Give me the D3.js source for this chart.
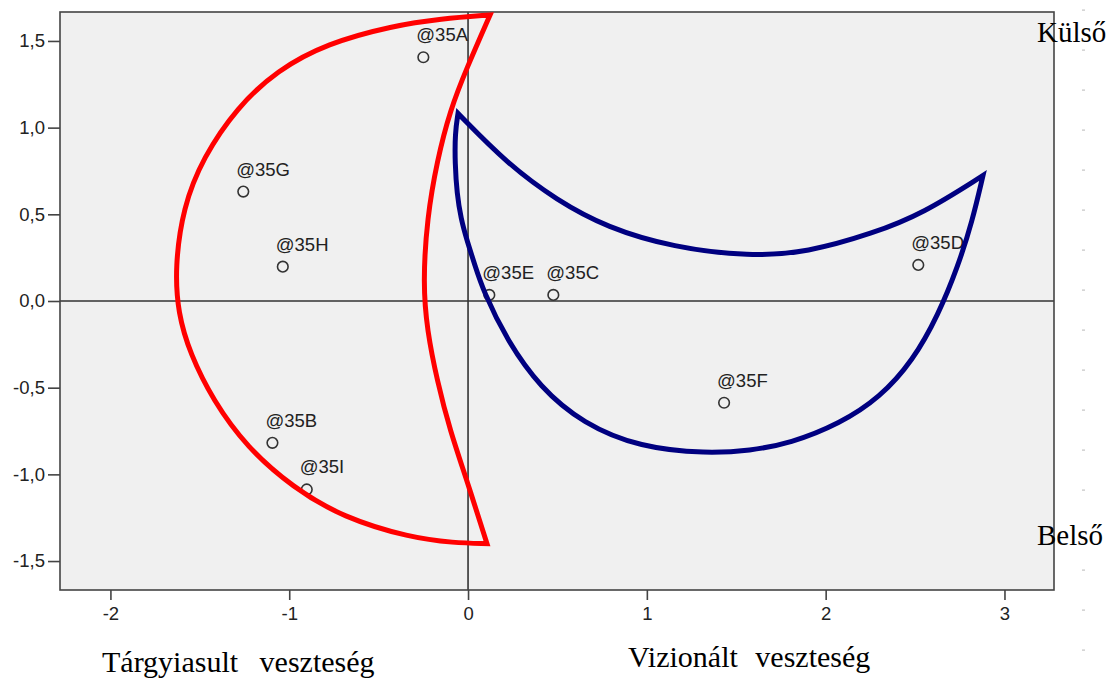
<!DOCTYPE html>
<html>
<head>
<meta charset="utf-8">
<script src="https://cdn.jsdelivr.net/npm/d3@7"></script>
<style>
  html, body { margin: 0; padding: 0; background: #fff; }
  svg { display: block; }
</style>
</head>
<body>
<svg id="chart" width="1113" height="679"></svg>
<script>
// ---- data ----
const pointLabels = ["@35A", "@35G", "@35H", "@35E", "@35C", "@35F", "@35D", "@35B", "@35I"];
const pointX = [-0.250, -1.257, -1.036, 0.119, 0.477, 1.432, 2.518, -1.094, -0.902];
const pointY = [1.406, 0.631, 0.198, 0.035, 0.035, -0.587, 0.208, -0.818, -1.087];

const xTicks = [-2, -1, 0, 1, 2, 3];
const yTicks = [1.5, 1.0, 0.5, 0.0, -0.5, -1.0, -1.5];

// red crescent ("Tárgyiasult veszteség") outline, data units
const redOuterX = [0.123, -0.150, -0.419, -0.789, -1.068, -1.292, -1.482, -1.594, -1.639, -1.622, -1.555, -1.426, -1.236, -0.979, -0.699, -0.324, -0.080, 0.106];
const redOuterY = [1.650, 1.628, 1.588, 1.486, 1.330, 1.117, 0.828, 0.540, 0.193, -0.072, -0.303, -0.574, -0.845, -1.076, -1.249, -1.365, -1.395, -1.400];
const redInnerX = [0.123, -0.006, -0.101, -0.173, -0.229, -0.252, -0.229, -0.173, -0.101, -0.006, 0.106];
const redInnerY = [1.650, 1.347, 1.099, 0.810, 0.482, 0.101, -0.170, -0.459, -0.747, -1.036, -1.400];

// navy crescent ("Vizionált veszteség") outline, data units
const blueTopX = [-0.056, 0.218, 0.498, 0.777, 1.147, 1.577, 1.896, 2.265, 2.545, 2.880];
const blueTopY = [1.082, 0.793, 0.580, 0.424, 0.309, 0.257, 0.280, 0.390, 0.505, 0.724];
const blueBottomX = [-0.056, -0.073, -0.073, -0.062, -0.040, -0.006, 0.039, 0.084, 0.218, 0.403, 0.643, 0.962, 1.337, 1.577, 1.801, 2.081, 2.304, 2.489, 2.630, 2.740, 2.820, 2.880];
const blueBottomY = [1.082, 0.967, 0.793, 0.620, 0.476, 0.349, 0.205, 0.061, -0.228, -0.499, -0.707, -0.845, -0.880, -0.863, -0.822, -0.707, -0.557, -0.343, -0.080, 0.200, 0.460, 0.724];

const xTitleLeft = "Tárgyiasult veszteség";
const xTitleRight = "Vizionált veszteség";
const yTitleTop = "Külső";
const yTitleBottom = "Belső";

// ---- chart ----
const svg = d3.select("#chart");
const plot = { left: 60, top: 12, right: 1054, bottom: 590 };

const x = d3.scaleLinear().domain([-2.282, 3.277]).range([plot.left, plot.right]);
const y = d3.scaleLinear().domain([-1.667, 1.667]).range([plot.bottom, plot.top]);

const fmtY = v => d3.format(".1f")(v).replace(".", ",").replace("−", "-");

// right-edge page marks
svg.append("g").selectAll("rect")
  .data(d3.range(10, 660, 40).filter(v => v !== 530))
  .join("rect")
  .attr("x", 1082).attr("y", d => d - 0.5).attr("width", 3).attr("height", 1.2)
  .attr("fill", "#c4c4c4");

// plot background
svg.append("rect")
  .attr("x", plot.left).attr("y", plot.top)
  .attr("width", plot.right - plot.left).attr("height", plot.bottom - plot.top)
  .attr("fill", "#f0f0f0");

// zero lines
svg.append("line")
  .attr("x1", plot.left).attr("x2", plot.right)
  .attr("y1", y(0)).attr("y2", y(0))
  .attr("stroke", "#333").attr("stroke-width", 1.6);
svg.append("line")
  .attr("x1", x(0)).attr("x2", x(0))
  .attr("y1", plot.top).attr("y2", plot.bottom)
  .attr("stroke", "#333").attr("stroke-width", 1.6);

// frame
svg.append("rect")
  .attr("x", plot.left).attr("y", plot.top)
  .attr("width", plot.right - plot.left).attr("height", plot.bottom - plot.top)
  .attr("fill", "none").attr("stroke", "#444").attr("stroke-width", 1.6);

// axes
const yAxis = d3.axisLeft(y).tickValues(yTicks).tickFormat(fmtY).tickSize(12).tickPadding(3);
const gy = svg.append("g").attr("transform", `translate(${plot.left},0)`).call(yAxis);
const xAxis = d3.axisBottom(x).tickValues(xTicks).tickFormat(d => String(d)).tickSize(10).tickPadding(7);
const gx = svg.append("g").attr("transform", `translate(0,${plot.bottom})`).call(xAxis);
[gy, gx].forEach(g => {
  g.select(".domain").remove();
  g.selectAll(".tick line").attr("stroke", "#444").attr("stroke-width", 1.6);
  g.selectAll(".tick text")
    .attr("fill", "#222")
    .style("font-family", "'Liberation Sans', Arial, sans-serif")
    .style("font-size", "18.5px");
});

// points
const pts = pointLabels.map((l, i) => ({ label: l, x: pointX[i], y: pointY[i] }));
svg.append("g").selectAll("circle")
  .data(pts).join("circle")
  .attr("cx", d => x(d.x)).attr("cy", d => y(d.y)).attr("r", 5.3)
  .attr("fill", "none").attr("stroke", "#333").attr("stroke-width", 1.6);
svg.append("g").selectAll("text")
  .data(pts).join("text")
  .attr("x", d => x(d.x) - 7).attr("y", d => y(d.y) - 16)
  .attr("fill", "#222")
  .style("font-family", "'Liberation Sans', Arial, sans-serif")
  .style("font-size", "18.5px")
  .text(d => d.label);

// crescents
const lineGen = d3.line().x(d => x(d[0])).y(d => y(d[1])).curve(d3.curveBasis);
function crescent(ax, ay, bx, by) {
  const a = ax.map((v, i) => [v, ay[i]]);
  const b = bx.map((v, i) => [v, by[i]]).reverse();
  return lineGen(a) + lineGen(b).replace(/^M/, "L") + "Z";
}
svg.append("path")
  .attr("d", crescent(redOuterX, redOuterY, redInnerX, redInnerY))
  .attr("fill", "none").attr("stroke", "#ff0000").attr("stroke-width", 5)
  .attr("stroke-linejoin", "miter").attr("stroke-miterlimit", 10);
svg.append("path")
  .attr("d", crescent(blueBottomX, blueBottomY, blueTopX, blueTopY))
  .attr("fill", "none").attr("stroke", "#000080").attr("stroke-width", 5)
  .attr("stroke-linejoin", "miter").attr("stroke-miterlimit", 10);

// serif titles
const serif = "'Liberation Serif', 'Times New Roman', serif";
svg.append("text").attr("x", 102).attr("y", 672)
  .style("font-family", serif).style("font-size", "30px").style("word-spacing", "14px")
  .attr("fill", "#000").text(xTitleLeft);
svg.append("text").attr("x", 628).attr("y", 667)
  .style("font-family", serif).style("font-size", "30px").style("word-spacing", "10px")
  .attr("fill", "#000").text(xTitleRight);
svg.append("text").attr("x", 1037).attr("y", 42)
  .style("font-family", serif).style("font-size", "29px")
  .attr("fill", "#000").text(yTitleTop);
svg.append("text").attr("x", 1037).attr("y", 545)
  .style("font-family", serif).style("font-size", "29px")
  .attr("fill", "#000").text(yTitleBottom);
</script>
</body>
</html>
